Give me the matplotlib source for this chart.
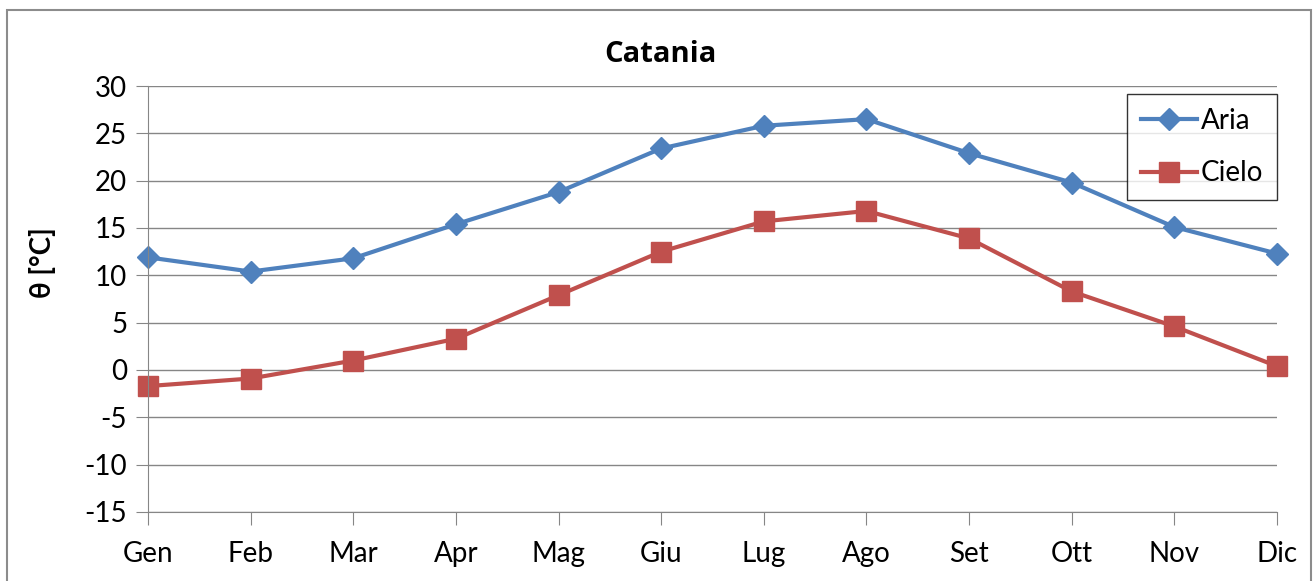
import matplotlib.pyplot as plt
from matplotlib.patches import Rectangle

mesi = ["Gen", "Feb", "Mar", "Apr", "Mag", "Giu", "Lug", "Ago", "Set", "Ott", "Nov", "Dic"]
aria = [11.9, 10.4, 11.8, 15.4, 18.8, 23.4, 25.8, 26.5, 22.9, 19.8, 15.1, 12.3]
cielo = [-1.7, -0.9, 1.0, 3.3, 7.9, 12.5, 15.7, 16.8, 13.9, 8.3, 4.6, 0.4]

plt.rcParams['font.family'] = ['Lato', 'DejaVu Sans']
plt.rcParams['axes.unicode_minus'] = False

fig = plt.figure(figsize=(13.14, 5.81), dpi=100)
ax = fig.add_axes([148/1314, 1 - 512/581, (1277 - 148)/1314, (512 - 86)/581])

# cornice esterna
fig.patches.append(Rectangle((7/1314, -0.01), (1311 - 7)/1314, 1.01 - 10/581,
                             transform=fig.transFigure, fill=False, edgecolor="#8c8c8c", lw=1.5))

x = list(range(len(mesi)))
ax.plot(x, aria, color="#4F81BD", lw=3, marker="D", ms=11.5, label="Aria", clip_on=False)
ax.plot(x, cielo, color="#C0504D", lw=3, marker="s", ms=14.5, label="Cielo", clip_on=False)

ax.set_xlim(0, 11)
ax.set_ylim(-15, 30)
ax.set_yticks(range(-15, 31, 5))
ax.set_xticks(x)
ax.set_xticklabels(mesi)
ax.grid(axis="y", color="#868686", lw=1)
ax.set_axisbelow(True)
for s in ["top", "right"]:
    ax.spines[s].set_visible(False)
for s in ["left", "bottom"]:
    ax.spines[s].set_color("#868686")
ax.tick_params(axis="both", colors="#868686", labelcolor="black", labelsize=20, length=9)
ax.tick_params(axis="x", pad=12)
ax.tick_params(axis="y", pad=6)

fig.text(660/1314, 1 - 54/581, "Catania", fontsize=21, fontweight="bold",
         family=["Open Sans", "DejaVu Sans"], ha="center", va="center")
fig.text(43/1314, 1 - 263/581, "θ [°C]", fontsize=20, fontweight="bold",
         rotation=90, ha="center", va="center")

leg = ax.legend(loc="upper right", bbox_to_anchor=(1.0, 0.981), borderaxespad=0,
                fontsize=20, frameon=True, fancybox=False, edgecolor="black",
                handlelength=2.0, labelspacing=0.95, borderpad=0.5, handletextpad=0.15)
leg.get_frame().set_linewidth(1)

plt.savefig("out.png", dpi=100)
